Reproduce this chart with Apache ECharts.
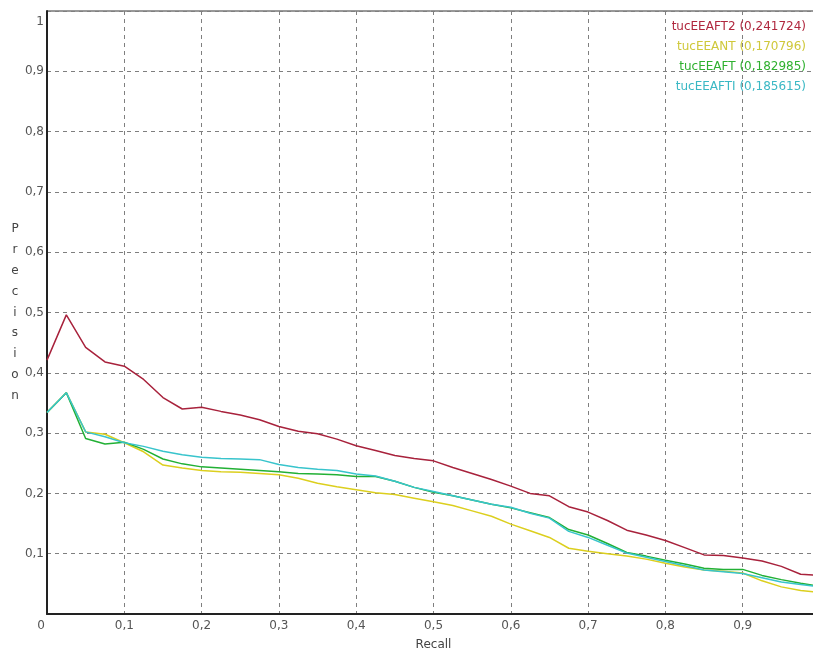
<!DOCTYPE html>
<html>
<head>
<meta charset="utf-8">
<script src="https://cdn.jsdelivr.net/npm/echarts@6/dist/echarts.min.js"></script>
<style>
  html, body { margin: 0; padding: 0; background: #fff; }
  #chart { width: 813px; height: 650px; }
</style>
</head>
<body>
<div id="chart"></div>
<script>
const recall = [0, 0.025, 0.05, 0.075, 0.1, 0.125, 0.15, 0.175, 0.2, 0.225, 0.25, 0.275, 0.3, 0.325, 0.35, 0.375,
  0.4, 0.425, 0.45, 0.475, 0.5, 0.525, 0.55, 0.575, 0.6, 0.625, 0.65, 0.675, 0.7, 0.725, 0.75, 0.775,
  0.8, 0.825, 0.85, 0.875, 0.9, 0.925, 0.95, 0.975, 1]

const ft2 = [0.421, 0.496, 0.442, 0.418, 0.411, 0.389, 0.359, 0.340, 0.343, 0.336, 0.330, 0.322, 0.311, 0.303, 0.299, 0.290,
  0.279, 0.271, 0.263, 0.258, 0.254, 0.243, 0.233, 0.223, 0.212, 0.200, 0.196, 0.178, 0.169, 0.155, 0.139, 0.131,
  0.122, 0.110, 0.098, 0.097, 0.093, 0.088, 0.079, 0.066, 0.064]
const ant = [0.334, 0.367, 0.302, 0.298, 0.284, 0.269, 0.247, 0.242, 0.238, 0.236, 0.235, 0.233, 0.231, 0.225, 0.217, 0.211,
  0.206, 0.201, 0.198, 0.192, 0.186, 0.180, 0.171, 0.162, 0.149, 0.138, 0.127, 0.109, 0.104, 0.100, 0.096, 0.091,
  0.084, 0.078, 0.073, 0.071, 0.068, 0.055, 0.045, 0.039, 0.036]
const aft = [0.334, 0.367, 0.291, 0.282, 0.285, 0.273, 0.257, 0.249, 0.244, 0.242, 0.240, 0.238, 0.236, 0.233, 0.232, 0.231,
  0.228, 0.228, 0.220, 0.210, 0.202, 0.196, 0.189, 0.182, 0.176, 0.168, 0.160, 0.140, 0.131, 0.117, 0.102, 0.096,
  0.089, 0.083, 0.076, 0.074, 0.074, 0.064, 0.057, 0.051, 0.046]
const afti = [0.334, 0.367, 0.302, 0.294, 0.284, 0.278, 0.270, 0.264, 0.260, 0.258, 0.257, 0.256, 0.248, 0.243, 0.240, 0.238,
  0.232, 0.229, 0.220, 0.210, 0.203, 0.196, 0.189, 0.182, 0.177, 0.167, 0.159, 0.137, 0.127, 0.114, 0.101, 0.094,
  0.087, 0.080, 0.073, 0.070, 0.067, 0.060, 0.053, 0.049, 0.045]

const names = ['tucEEAFT2 (0,241724)', 'tucEEANT (0,170796)', 'tucEEAFT (0,182985)', 'tucEEAFTI (0,185615)']
const colors = ['#a8223c', '#dccf1e', '#22b035', '#38c4cc']
const textColors = ['#b0283e', '#cfc83a', '#2fb02f', '#3ab8c4']
const values = [ft2, ant, aft, afti]

const font = 'DejaVu Sans'
const labelColor = '#555'
const gridLine = { show: true, lineStyle: { color: '#7f7f7f', type: [4, 4], width: 1 } }
const comma = (v) => String(Math.round(v * 10) / 10).replace('.', ',')

const chart = echarts.init(document.getElementById('chart'), null, { renderer: 'canvas' })

chart.setOption({
  animation: false,
  backgroundColor: '#fff',
  textStyle: { fontFamily: font },
  grid: {
    left: 47, width: 773, top: 11, height: 603,
    outerBoundsMode: 'none', containLabel: false,
    show: true, borderColor: '#333', borderWidth: 1
  },
  legend: {
    orient: 'vertical',
    right: 1,
    top: 21,
    padding: 0,
    itemGap: 8,
    itemWidth: 0,
    itemHeight: 0,
    align: 'right',
    data: names.map((n, i) => ({ name: n, textStyle: { color: textColors[i] } })),
    textStyle: { fontSize: 12, fontFamily: font }
  },
  xAxis: {
    type: 'value',
    min: 0,
    max: 1,
    interval: 0.1,
    name: 'Recall',
    nameLocation: 'middle',
    nameGap: 25,
    nameTextStyle: { color: '#444', fontSize: 12 },
    axisLine: { lineStyle: { color: '#222', width: 2 } },
    axisTick: { show: false },
    axisLabel: {
      color: labelColor, fontSize: 12, margin: 6,
      formatter: (v) => (v === 0 ? '{z|0}' : comma(v)),
      rich: { z: { padding: [0, 12, 0, 0], fontSize: 12, color: labelColor } }
    },
    splitLine: gridLine
  },
  yAxis: {
    type: 'value',
    min: 0,
    max: 1,
    interval: 0.1,
    name: 'P\nr\ne\nc\ni\ns\ni\no\nn',
    nameLocation: 'middle',
    nameRotate: 0,
    nameGap: 32,
    nameTextStyle: { color: '#444', fontSize: 12, lineHeight: 20.8, align: 'center' },
    axisLine: { show: true, lineStyle: { color: '#222', width: 2 } },
    axisTick: { show: false },
    axisLabel: {
      color: labelColor, fontSize: 12, margin: 3,
      formatter: (v) => (v === 0 ? '' : v === 1 ? '{t|1}' : comma(v)),
      rich: { t: { padding: [22, 0, 0, 0], fontSize: 12, color: labelColor } }
    },
    splitLine: gridLine
  },
  series: names.map((n, i) => ({
    name: n,
    type: 'line',
    data: recall.map((r, j) => [r, values[i][j]]),
    showSymbol: false,
    symbol: 'none',
    color: colors[i],
    lineStyle: { width: 1.5, color: colors[i] }
  }))
})
</script>
</body>
</html>
